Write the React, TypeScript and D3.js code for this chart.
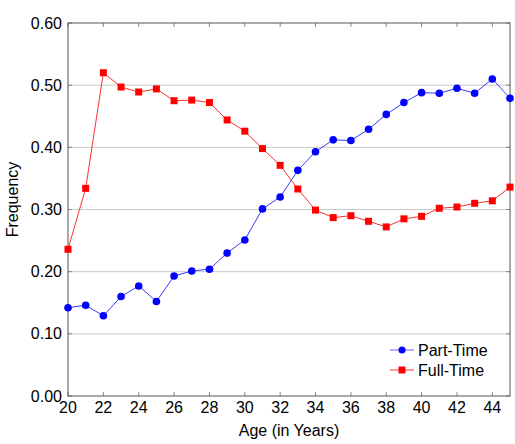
import React, { useEffect, useRef } from "react";
import * as d3 from "d3";

const ages = [20, 21, 22, 23, 24, 25, 26, 27, 28, 29, 30, 31, 32, 33, 34, 35, 36, 37, 38, 39, 40, 41, 42, 43, 44, 45];
const partTime = [0.142, 0.146, 0.129, 0.16, 0.177, 0.152, 0.193, 0.201, 0.204, 0.23, 0.251, 0.301, 0.32, 0.363, 0.393, 0.412, 0.411, 0.429, 0.453, 0.472, 0.488, 0.487, 0.495, 0.487, 0.51, 0.479];
const fullTime = [0.236, 0.334, 0.52, 0.497, 0.489, 0.494, 0.475, 0.476, 0.472, 0.444, 0.426, 0.398, 0.371, 0.333, 0.299, 0.287, 0.29, 0.281, 0.272, 0.285, 0.289, 0.302, 0.304, 0.31, 0.314, 0.336];
const xTicks = [20, 22, 24, 26, 28, 30, 32, 34, 36, 38, 40, 42, 44];
const yTicks = [0, 0.1, 0.2, 0.3, 0.4, 0.5, 0.6];

const W = 515;
const H = 444;
const M = { left: 68, right: 5, top: 23, bottom: 48 };
const FONT = "'Liberation Sans', Arial, Helvetica, sans-serif";
const FS = 16;

export default function App() {
  const ref = useRef<SVGSVGElement>(null);

  useEffect(() => {
    const svg = d3.select(ref.current);
    svg.selectAll("*").remove();

    const x = d3.scaleLinear().domain([20, 45]).range([M.left, W - M.right]);
    const y = d3.scaleLinear().domain([0, 0.6]).range([H - M.bottom, M.top]);
    const [x0, x1] = x.range();
    const [y0, y1] = y.range();

    // horizontal grid
    svg.append("g")
      .selectAll("line")
      .data(yTicks.slice(1, -1))
      .join("line")
      .attr("x1", x0).attr("x2", x1)
      .attr("y1", (d) => y(d)).attr("y2", (d) => y(d))
      .attr("stroke", "#c8c8c8").attr("stroke-width", 1);

    // tick marks on all four sides, pointing inward
    const tk = 4;
    const ticks = svg.append("g").attr("stroke", "#888").attr("stroke-width", 1);
    xTicks.forEach((t) => {
      ticks.append("line").attr("x1", x(t)).attr("x2", x(t)).attr("y1", y0).attr("y2", y0 - tk);
      ticks.append("line").attr("x1", x(t)).attr("x2", x(t)).attr("y1", y1).attr("y2", y1 + tk);
    });
    yTicks.forEach((t) => {
      ticks.append("line").attr("x1", x0).attr("x2", x0 + tk).attr("y1", y(t)).attr("y2", y(t));
      ticks.append("line").attr("x1", x1).attr("x2", x1 - tk).attr("y1", y(t)).attr("y2", y(t));
    });

    // frame
    svg.append("rect")
      .attr("x", x0).attr("y", y1)
      .attr("width", x1 - x0).attr("height", y0 - y1)
      .attr("fill", "none").attr("stroke", "#555").attr("stroke-width", 1);

    // tick labels
    svg.append("g")
      .selectAll("text")
      .data(xTicks)
      .join("text")
      .attr("x", (d) => x(d)).attr("y", y0 + 17)
      .attr("text-anchor", "middle")
      .attr("font-family", FONT).attr("font-size", FS).attr("fill", "#000")
      .text((d) => String(d));

    svg.append("g")
      .selectAll("text")
      .data(yTicks)
      .join("text")
      .attr("x", x0 - 6).attr("y", (d) => y(d))
      .attr("dy", "0.35em")
      .attr("text-anchor", "end")
      .attr("font-family", FONT).attr("font-size", FS).attr("fill", "#000")
      .text((d) => d3.format(".2f")(d));

    // axis titles
    svg.append("text")
      .attr("x", (x0 + x1) / 2).attr("y", H - 8)
      .attr("text-anchor", "middle")
      .attr("font-family", FONT).attr("font-size", FS)
      .text("Age (in Years)");
    svg.append("text")
      .attr("transform", `translate(18, ${(y0 + y1) / 2 - 10}) rotate(-90)`)
      .attr("text-anchor", "middle")
      .attr("font-family", FONT).attr("font-size", FS)
      .text("Frequency");

    const line = d3.line<number>()
      .x((_, i) => x(ages[i]))
      .y((d) => y(d));

    const plot = svg.append("g");

    // Part-Time series
    plot.append("path")
      .attr("d", line(partTime)!)
      .attr("fill", "none").attr("stroke", "#3a3aff").attr("stroke-width", 1);
    plot.append("g")
      .selectAll("circle")
      .data(partTime)
      .join("circle")
      .attr("cx", (_, i) => x(ages[i])).attr("cy", (d) => y(d))
      .attr("r", 3.8).attr("fill", "#0000ff");

    // Full-Time series
    plot.append("path")
      .attr("d", line(fullTime)!)
      .attr("fill", "none").attr("stroke", "#ff3030").attr("stroke-width", 1);
    const s = 7;
    plot.append("g")
      .selectAll("rect")
      .data(fullTime)
      .join("rect")
      .attr("x", (_, i) => x(ages[i]) - s / 2).attr("y", (d) => y(d) - s / 2)
      .attr("width", s).attr("height", s)
      .attr("fill", "#ff0000");

    // legend
    const lg = svg.append("g").attr("transform", "translate(390, 350)");
    const items = [
      { name: "Part-Time", color: "#0000ff", stroke: "#6a6aff", shape: "circle" },
      { name: "Full-Time", color: "#ff0000", stroke: "#ff4040", shape: "square" },
    ];
    items.forEach((it, i) => {
      const g = lg.append("g").attr("transform", `translate(0, ${i * 20})`);
      g.append("line").attr("x1", 0).attr("x2", 24).attr("y1", 0).attr("y2", 0)
        .attr("stroke", it.stroke).attr("stroke-width", 1);
      if (it.shape === "circle") {
        g.append("circle").attr("cx", 12).attr("cy", 0).attr("r", 3.5).attr("fill", it.color);
      } else {
        g.append("rect").attr("x", 12 - 3.5).attr("y", -3.5).attr("width", 7).attr("height", 7).attr("fill", it.color);
      }
      g.append("text").attr("x", 28).attr("y", 0).attr("dy", "0.35em")
        .attr("font-family", FONT).attr("font-size", FS).text(it.name);
    });
  }, []);

  return (
    <svg ref={ref} width={W} height={H} style={{ position: "absolute", left: 0, top: 0, background: "#fff" }} />
  );
}
